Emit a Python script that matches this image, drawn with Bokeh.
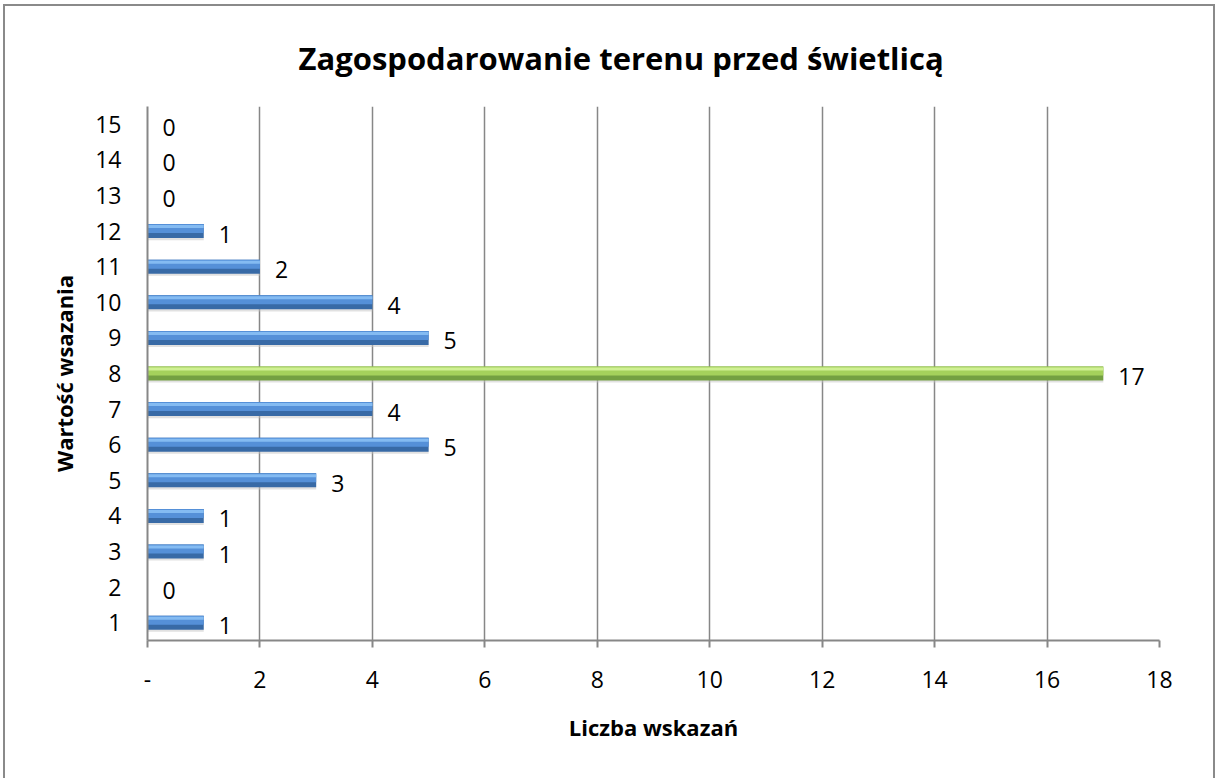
from bokeh.plotting import figure
from bokeh.models import FixedTicker, ColumnDataSource
from bokeh.embed import file_html
from bokeh.resources import INLINE

categories = list(range(1, 16))
values = [1, 0, 1, 1, 3, 5, 4, 17, 5, 4, 2, 1, 0, 0, 0]
highlight = [8]
x_ticks = [0, 2, 4, 6, 8, 10, 12, 14, 16, 18]
title_text = "Zagospodarowanie terenu przed świetlicą"
x_label = "Liczba wskazań"
y_label = "Wartość wsazania"

FONT = "Open Sans"
GRAY = "#878787"

blue = dict(dark="#386AA6", mid="#5590D8", light="#84BBF2")
green = dict(dark="#74A042", mid="#A5D15C", light="#CFF093")

def pal(key):
    return [green[key] if c in highlight else blue[key] for c in categories]

src = ColumnDataSource(dict(
    y=categories,
    v=values,
    ys=[c - 0.06 for c in categories],
    ym=[c + 0.07 for c in categories],
    yl=[c + 0.126 for c in categories],
    dark=pal("dark"), mid=pal("mid"), light=pal("light"),
    lab=[str(v) for v in values],
))

p = figure(width=1212, height=780, output_backend="svg", toolbar_location=None,
           x_range=(0, 18), y_range=(0.5, 15.5),
           min_border_left=142, min_border_right=58, min_border_top=100, min_border_bottom=146)
p.styles = {"border": "2px solid #8a8a8a", "box-sizing": "border-box",
            "margin-left": "3px", "margin-top": "4px"}
p.outline_line_color = None
p.background_fill_color = "white"
p.border_fill_color = "white"

# bars with bevel-like layers
p.hbar(y="ys", left=0, right="v", height=0.39, source=src, fill_color="#c4c4c4", fill_alpha=0.5, line_color=None)
p.hbar(y="y", left=0, right="v", height=0.393, source=src, fill_color="dark", line_color=None)
p.hbar(y="ym", left=0, right="v", height=0.253, source=src, fill_color="mid", line_color=None)
p.hbar(y="yl", left=0, right="v", height=0.084, source=src, fill_color="light", line_color=None)

p.text(x="v", y="y", text="lab", source=src, x_offset=15, y_offset=3,
       text_align="left", text_baseline="middle", text_font_size="23px",
       text_font={"value": FONT}, text_color="black")

# axes
p.xaxis.ticker = FixedTicker(ticks=x_ticks)
p.xaxis.major_label_overrides = {0: "-"}
p.yaxis.ticker = FixedTicker(ticks=categories)
for ax in (p.xaxis[0], p.yaxis[0]):
    ax.axis_line_color = GRAY
    ax.axis_line_width = 2
    ax.major_label_text_font = FONT
    ax.major_label_text_font_size = "23px"
    ax.major_label_text_color = "black"
    ax.axis_label_text_font = FONT
    ax.axis_label_text_font_size = "22px"
    ax.axis_label_text_font_style = "bold"
    ax.axis_label_text_color = "black"
    ax.minor_tick_line_color = None

p.xaxis.major_tick_line_color = GRAY
p.xaxis.major_tick_line_width = 2
p.xaxis.major_tick_in = 0
p.xaxis.major_tick_out = 7
p.xaxis.major_label_standoff = 23
p.xaxis.axis_label = x_label
p.xaxis.axis_label_standoff = 21

p.yaxis.major_tick_line_color = None
p.yaxis.major_label_standoff = 20
p.yaxis.axis_label = y_label
p.yaxis.axis_label_standoff = 13

p.xgrid.grid_line_color = GRAY
p.xgrid.grid_line_width = 1.5
p.xgrid.ticker = FixedTicker(ticks=x_ticks)
p.ygrid.grid_line_color = None

p.title.text = title_text
p.title.align = "left"
p.title.offset = 151
p.title.text_font = FONT
p.title.text_font_size = "31px"
p.title.text_font_style = "bold"
p.title.text_color = "black"
p.title.standoff = 56

open("out.html", "w").write(file_html(p, INLINE))
